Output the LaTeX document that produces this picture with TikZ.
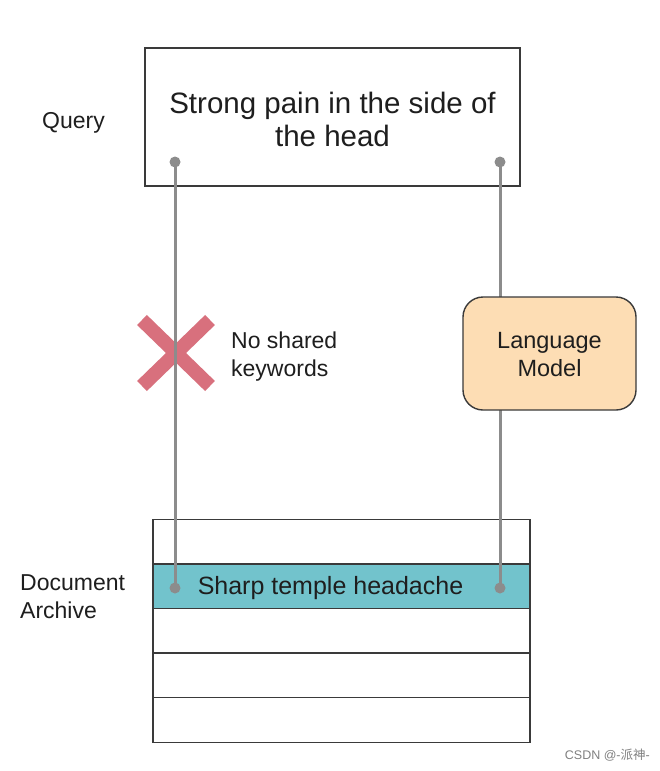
\documentclass[tikz,border=0pt]{standalone}
\usepackage{fontspec}
\setmainfont{Liberation Sans}
\newfontfamily\cjkfont{Noto Sans CJK SC}
\definecolor{linegray}{HTML}{8C8C8C}
\definecolor{boxgray}{HTML}{3A3A3A}
\definecolor{teal}{HTML}{72C3CC}
\definecolor{peach}{HTML}{FDDDB4}
\definecolor{crossred}{HTML}{D8707D}
\definecolor{txt}{HTML}{1E1E1E}
\tikzset{
  plainbox/.style={draw=boxgray, line width=1.4pt, inner sep=0pt, text=txt},
  rowbox/.style={plainbox, minimum width=377pt, minimum height=44.6pt},
  lbl/.style={text=txt, font=\fontsize{23}{28}\selectfont, align=left, inner sep=0pt},
  conn/.style={draw=linegray, line width=3pt},
  dotmark/.style={fill=linegray},
  crossarm/.style={draw=crossred, line width=14pt}
}
\begin{document}
\begin{tikzpicture}[x=1pt,y=-1pt]
\useasboundingbox (0,0) rectangle (660,771);
\fill[white] (0,0) rectangle (660,771);

% query box
\node (query) [plainbox, minimum width=375pt, minimum height=138pt] at (332.5,117) {};
\node (querytxt) [text=txt, align=center, inner sep=0pt,
  font=\fontsize{29.5}{33}\selectfont] at (332.5,119.5) {Strong pain in the side of\\the head};
\node (querylbl) [lbl, anchor=west] at (42,123) {Query};

% document archive rows
\node (row1) [rowbox] at (341.5,541.5) {};
\node (row2) [rowbox, fill=teal] at (341.5,586.1) {};
\node (row2txt) [text=txt, inner sep=0pt, font=\fontsize{25}{28}\selectfont] at (330.5,588.5) {Sharp temple headache};
\node (row3) [rowbox] at (341.5,630.7) {};
\node (row4) [rowbox] at (341.5,675.3) {};
\node (row5) [rowbox] at (341.5,719.9) {};
\node (doclbl) [lbl, anchor=west] at (20,597) {Document\\Archive};

% cross
\draw[crossarm] (142,320) -- (210,386);
\draw[crossarm] (210,320) -- (142,386);
\node (nokw) [lbl, anchor=west] at (231,357) {No shared\\keywords};

% connector end points
\coordinate (q1) at (175,162);
\coordinate (q2) at (500,162);
\coordinate (d1) at (175,588);
\coordinate (d2) at (500,588);

\draw[conn] (q1) -- (d1);
\draw[conn] (q2) -- (d2);
\foreach \p in {q1,q2,d1,d2} \fill[dotmark] (\p) circle (5.5pt);

% language model
\node (lm) [plainbox, fill=peach, rounded corners=20pt, minimum width=173pt, minimum height=113pt] at (549.5,353.5) {};
\node (lmtxt) [text=txt, align=center, inner sep=0pt, font=\fontsize{23.5}{28}\selectfont] at (549.5,355) {Language\\Model};

% watermark
\node (wm) [anchor=east, text=gray, font=\fontsize{12.5}{14}\selectfont, inner sep=0pt] at (650,755) {CSDN @-{\cjkfont 派神}-};
\end{tikzpicture}
\end{document}
